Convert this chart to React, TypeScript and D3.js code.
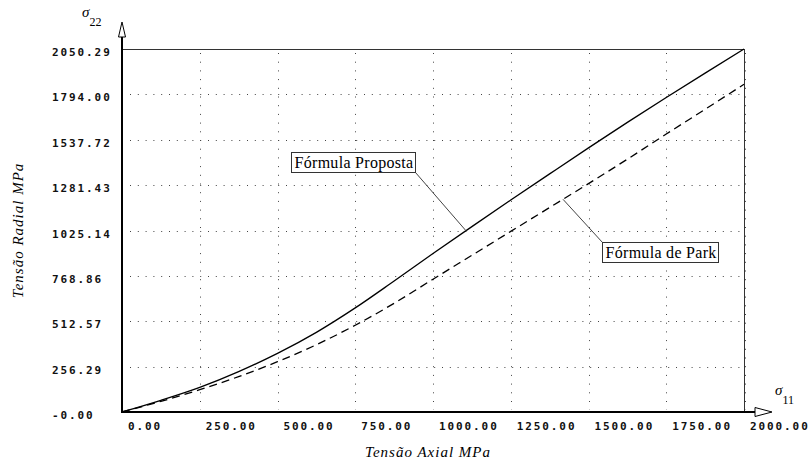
import React, { useEffect, useRef } from 'react';
import { select, scaleLinear, line, curveMonotoneX, interpolateNumber, bisectRight } from 'd3';

// tensão axial (sigma 11), MPa
const axialStress = [0, 125, 250, 375, 500, 625, 750, 875, 1000, 1125, 1250, 1375, 1500, 1625, 1750, 1875, 2000];
// tensão radial, fórmula proposta
const proposedRadial = [0, 66, 139, 228, 331, 450, 588, 740, 895, 1047, 1197, 1345, 1492, 1636, 1776, 1914, 2050.29];
// tensão radial, fórmula de Park
const parkRadial = [0, 60, 126, 200, 284, 380, 490, 614, 750, 885, 1020, 1155, 1290, 1428, 1570, 1710, 1851];

const xTicks = [0, 250, 500, 750, 1000, 1250, 1500, 1750, 2000];
const xTickLabels = ['0.00', '250.00', '500.00', '750.00', '1000.00', '1250.00', '1500.00', '1750.00', '2000.00'];
const yTicks = [0, 256.29, 512.57, 768.86, 1025.14, 1281.43, 1537.72, 1794.0, 2050.29];
const yTickLabels = ['-0.00', '256.29', '512.57', '768.86', '1025.14', '1281.43', '1537.72', '1794.00', '2050.29'];

const W = 812, H = 462;
const margin = { top: 49, right: 68, bottom: 50, left: 122 };

const valueAt = (xs: number[], ys: number[], x: number) => {
    const i = Math.min(Math.max(bisectRight(xs, x), 1), xs.length - 1);
    const t = (x - xs[i - 1]) / (xs[i] - xs[i - 1]);
    return interpolateNumber(ys[i - 1], ys[i])(t);
};

const App = () => {
    const svgRef = useRef(null);

    useEffect(() => {
        const svg = select(svgRef.current);
        svg.selectAll('*').remove();

        const x = scaleLinear().domain([0, 2000]).range([margin.left, W - margin.right]);
        const y = scaleLinear().domain([0, 2050.29]).range([H - margin.bottom, margin.top]);
        const x0 = x(0), x1 = x(2000), y0 = y(0), y1 = y(2050.29);

        const mono = 'DejaVu Sans Mono, monospace';
        const serif = 'Liberation Serif, DejaVu Serif, serif';

        // grid
        const grid = svg.append('g').attr('stroke', '#444').attr('stroke-width', 1);
        grid.selectAll('line.h')
            .data(yTicks.slice(1, -1))
            .enter()
            .append('line')
            .attr('x1', x0 + 8).attr('x2', x1 - 2)
            .attr('y1', d => Math.round(y(d)) + 0.5).attr('y2', d => Math.round(y(d)) + 0.5)
            .attr('stroke-dasharray', '1,6.8');
        grid.selectAll('line.v')
            .data(xTicks.slice(1))
            .enter()
            .append('line')
            .attr('x1', d => Math.round(x(d)) + (d === 2000 ? 1.5 : 0.5))
            .attr('x2', d => Math.round(x(d)) + (d === 2000 ? 1.5 : 0.5))
            .attr('y1', y1 + 4).attr('y2', y0 - 2)
            .attr('stroke-dasharray', '1,7.7');

        // frame
        svg.append('line').attr('x1', x0).attr('x2', x1 + 0.5).attr('y1', y1 + 0.5).attr('y2', y1 + 0.5)
            .attr('stroke', '#333').attr('stroke-width', 1);
        svg.append('line').attr('x1', x1 + 0.5).attr('x2', x1 + 0.5).attr('y1', y1).attr('y2', y0)
            .attr('stroke', '#333').attr('stroke-width', 1);

        // curves
        const drawLine = line<number>()
            .x((_, i) => x(axialStress[i]))
            .y(d => y(d))
            .curve(curveMonotoneX);

        svg.append('path').datum(proposedRadial)
            .attr('d', drawLine)
            .attr('fill', 'none').attr('stroke', '#000').attr('stroke-width', 1.3);
        svg.append('path').datum(parkRadial)
            .attr('d', drawLine)
            .attr('fill', 'none').attr('stroke', '#000').attr('stroke-width', 1.3)
            .attr('stroke-dasharray', '8,5');

        // axes with arrows
        svg.append('line').attr('x1', x0).attr('x2', x0).attr('y1', y0 + 1).attr('y2', 37)
            .attr('stroke', '#000').attr('stroke-width', 2);
        svg.append('path')
            .attr('d', `M${x0},22 L${x0 - 3.5},37 L${x0 + 3.5},37 Z`)
            .attr('fill', '#fff').attr('stroke', '#000').attr('stroke-width', 1);
        svg.append('line').attr('x1', x0 - 1).attr('x2', 755).attr('y1', y0).attr('y2', y0)
            .attr('stroke', '#000').attr('stroke-width', 2);
        svg.append('path')
            .attr('d', `M755,${y0 - 4.5} L772,${y0} L755,${y0 + 4.5} Z`)
            .attr('fill', '#fff').attr('stroke', '#000').attr('stroke-width', 1);

        // tick labels
        svg.append('g').selectAll('text')
            .data(yTicks)
            .enter()
            .append('text')
            .attr('x', 52)
            .attr('y', d => y(d) + 7)
            .text((_, i) => yTickLabels[i])
            .attr('font-family', mono).attr('font-weight', 'bold')
            .attr('font-size', 11).attr('letter-spacing', 1.9).attr('fill', '#111');
        svg.append('g').selectAll('text')
            .data(xTicks)
            .enter()
            .append('text')
            .attr('x', d => x(d) + 6)
            .attr('y', y0 + 18)
            .text((_, i) => xTickLabels[i])
            .attr('font-family', mono).attr('font-weight', 'bold')
            .attr('font-size', 11).attr('letter-spacing', 1.9).attr('fill', '#111');

        // axis titles
        svg.append('text')
            .attr('transform', `translate(23, ${(y0 + y1) / 2}) rotate(-90)`)
            .attr('text-anchor', 'middle')
            .text('Tensão Radial MPa')
            .attr('font-family', serif).attr('font-style', 'italic')
            .attr('font-size', 15).attr('letter-spacing', 1);
        svg.append('text')
            .attr('x', 428).attr('y', 457)
            .attr('text-anchor', 'middle')
            .text('Tensão Axial MPa')
            .attr('font-family', serif).attr('font-style', 'italic')
            .attr('font-size', 15).attr('letter-spacing', 1);

        // sigma symbols
        const sigma = (sx: number, sy: number, sub: string) => {
            const t = svg.append('text').attr('x', sx).attr('y', sy)
                .attr('font-family', serif).attr('font-size', 15);
            t.append('tspan').attr('font-style', 'italic').text('σ');
            t.append('tspan').attr('dy', 9).attr('font-size', 12).text(sub);
        };
        sigma(82, 17, '22');
        sigma(775, 395, '11');

        // annotations
        const notes = [
            { text: 'Fórmula Proposta', bx: 543, by: 1468, at: 1106, values: proposedRadial, corner: 'br' },
            { text: 'Fórmula de Park', bx: 1543, by: 960, at: 1418, values: parkRadial, corner: 'tl' },
        ];
        notes.forEach(n => {
            const bx = Math.round(x(n.bx)) + 0.5, by = Math.round(y(n.by)) + 0.5;
            const g = svg.append('g');
            const rect = g.append('rect').attr('fill', '#fff').attr('stroke', '#333').attr('stroke-width', 1);
            const t = g.append('text').attr('x', bx + 3).attr('y', by + 15)
                .text(n.text)
                .attr('font-family', serif).attr('font-size', 16).attr('letter-spacing', 0.3);
            const tw = (t.node() as SVGTextElement).getComputedTextLength();
            const bw = Math.round(tw + 5);
            rect.attr('x', bx).attr('y', by).attr('width', bw).attr('height', 20);
            const px = n.corner === 'br' ? bx + bw : bx;
            const py = n.corner === 'br' ? by + 20 : by;
            g.insert('line', 'rect')
                .attr('x1', px).attr('y1', py)
                .attr('x2', x(n.at)).attr('y2', y(valueAt(axialStress, n.values, n.at)))
                .attr('stroke', '#444').attr('stroke-width', 1);
        });
    }, []);

    return (
        <svg
            ref={svgRef}
            width={W}
            height={H}
            viewBox={`0 0 ${W} ${H}`}
            style={{ position: 'absolute', left: 0, top: 0, background: '#fff' }}
        />
    );
};

export default App;
